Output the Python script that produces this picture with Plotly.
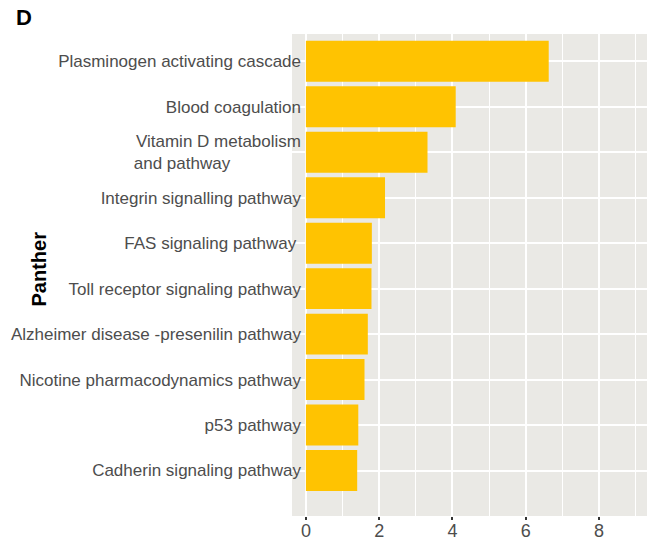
import plotly.graph_objects as go

categories = [
    "Plasminogen activating cascade",
    "Blood coagulation",
    "Vitamin D metabolism<br>and pathway" + "\u00a0" * 15,
    "Integrin signalling pathway",
    "FAS signaling pathway\u00a0",
    "Toll receptor signaling pathway",
    "Alzheimer disease -presenilin pathway",
    "Nicotine pharmacodynamics pathway",
    "p53 pathway",
    "Cadherin signaling pathway",
]
values = [6.63, 4.09, 3.32, 2.16, 1.80, 1.79, 1.69, 1.60, 1.43, 1.40]
x_ticks = [0, 2, 4, 6, 8]

FONT = "Liberation Sans, Arial, sans-serif"
TXT = "#4D4D4D"

# page body has an 8px default margin; figure is sized to fill the rest of the window
W, H = 647, 536
L, R, T, B = 284, 3, 26, 28
plot_w = W - L - R
plot_h = H - T - B

fig = go.Figure(go.Bar(
    x=values, y=categories, orientation="h",
    marker=dict(color="#FFC301", line=dict(width=0)),
    width=0.9,
))

fig.update_layout(
    width=W, height=H,
    margin=dict(l=L, r=R, t=T, b=B),
    paper_bgcolor="white", plot_bgcolor="#EAE9E5",
    showlegend=False,
    font=dict(family=FONT, color=TXT),
)
fig.update_xaxes(
    range=[-0.38, 9.45], tickvals=x_ticks, ticks="outside", ticklen=3, tickwidth=1.5,
    tickcolor="#333333", tickfont=dict(size=18, color=TXT, family=FONT),
    ticklabelstandoff=-5,
    showgrid=True, gridcolor="white", gridwidth=2, zeroline=False, showline=False,
    automargin=False,
    minor=dict(dtick=1, tick0=0, showgrid=True, gridcolor="white", gridwidth=1, ticks=""),
)
fig.update_yaxes(
    type="category", categoryorder="array", categoryarray=categories,
    range=[10.0, -0.6], ticks="", ticklabelstandoff=-10, automargin=False,
    tickfont=dict(size=17, color=TXT, family=FONT),
    showgrid=True, gridcolor="white", gridwidth=2, zeroline=False, showline=False,
)
fig.add_annotation(
    text="<b>D</b>", xref="paper", yref="paper",
    x=(6 - L) / plot_w, y=1 + (T - 9.5) / plot_h, xanchor="left", yanchor="middle",
    showarrow=False, font=dict(family=FONT, size=22, color="black"),
)
fig.add_annotation(
    text="<b>Panther</b>", textangle=-90, xref="paper", yref="paper",
    x=(17.5 - L) / plot_w, y=(H - B - 261) / plot_h, showarrow=False,
    font=dict(family=FONT, size=20, color="black"),
)
fig.write_html("out.html")
